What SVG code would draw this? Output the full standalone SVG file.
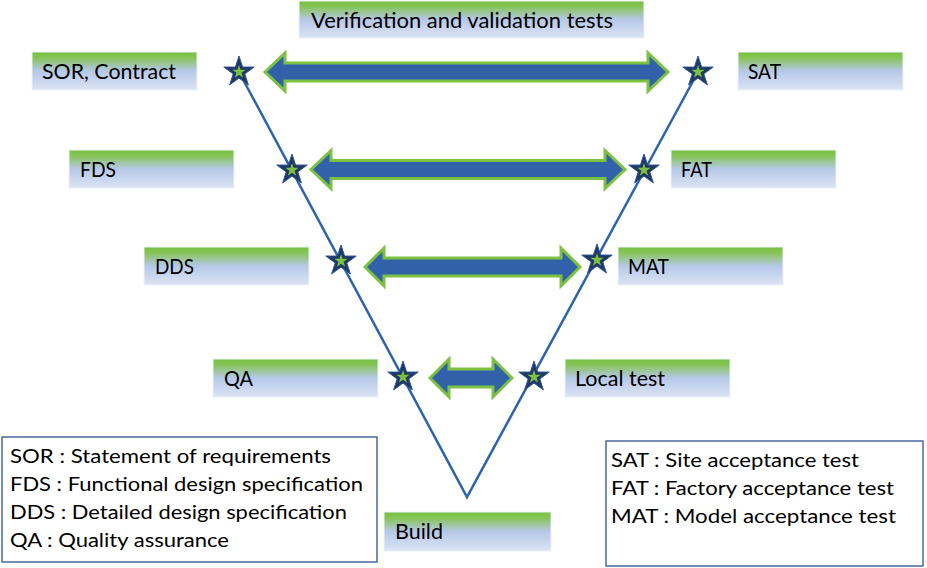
<svg xmlns="http://www.w3.org/2000/svg" xmlns:xlink="http://www.w3.org/1999/xlink" width="927" height="568" viewBox="0 0 927 568">
  <defs>
    <linearGradient id="boxGrad" x1="0" y1="0" x2="0" y2="1">
      <stop offset="0" stop-color="#78c040"/>
      <stop offset="0.15" stop-color="#86c456"/>
      <stop offset="0.5" stop-color="#b6c8e8"/>
      <stop offset="1" stop-color="#dbe4f4"/>
    </linearGradient>
    <g id="star">
      <path d="M0,-16 L3.6,-4.95 L15.22,-4.95 L5.81,1.89 L9.4,12.94 L0,6.11 L-9.4,12.94 L-5.81,1.89 L-15.22,-4.95 L-3.6,-4.95 Z" fill="#1f3864" stroke="#2f5597" stroke-width="1"/>
      <path d="M0,-7 L1.57,-2.16 L6.66,-2.16 L2.54,0.83 L4.11,5.66 L0,2.67 L-4.11,5.66 L-2.54,0.83 L-6.66,-2.16 L-1.57,-2.16 Z" fill="#7cc142"/>
    </g>
  </defs>
  <style>
    .box { fill: url(#boxGrad); stroke: #eef3fa; stroke-width: 1; }
    .lbl { font-family: Lato, "Liberation Sans", sans-serif; font-size: 22px; fill: #000; }
    .leg { font-family: Lato, "Liberation Sans", sans-serif; font-size: 19.5px; fill: #000; }
    .legbox { fill: #fff; stroke: #2f528f; stroke-width: 1.3; }
    .vline { fill: none; stroke: #2f63ad; stroke-width: 2.5; stroke-linejoin: miter; }
    .arrow { fill: #3162a9; stroke: #7cc142; stroke-width: 3; stroke-linejoin: miter; }
  </style>

  <g id="connectors">
    <polyline class="vline" points="239,72 467,497 698,72"/>
    <path class="arrow" d="M265,72 L285,53 L285,63 L648,63 L648,53 L668,72 L648,91 L648,81 L285,81 L285,91 Z"/>
    <path class="arrow" d="M311,169.5 L331,150.5 L331,160.5 L605,160.5 L605,150.5 L625,169.5 L605,188.5 L605,178.5 L331,178.5 L331,188.5 Z"/>
    <path class="arrow" d="M365,267 L384,248 L384,258 L561,258 L561,248 L580,267 L561,286 L561,276 L384,276 L384,286 Z"/>
    <path class="arrow" d="M430,378 L449,359 L449,369 L493,369 L493,359 L512,378 L493,397 L493,387 L449,387 L449,397 Z"/>
  </g>

  <g id="stars">
    <use xlink:href="#star" x="239" y="72"/>
    <use xlink:href="#star" x="292" y="170"/>
    <use xlink:href="#star" x="341" y="261"/>
    <use xlink:href="#star" x="403" y="377"/>
    <use xlink:href="#star" x="698" y="72"/>
    <use xlink:href="#star" x="644" y="170"/>
    <use xlink:href="#star" x="597" y="260"/>
    <use xlink:href="#star" x="534" y="377"/>
  </g>

  <g id="node-vv">
    <rect class="box" x="299" y="1" width="345" height="37"/>
    <text class="lbl" x="311" y="28" textLength="302" lengthAdjust="spacingAndGlyphs">Verification and validation tests</text>
  </g>
  <g id="node-sor">
    <rect class="box" x="32" y="52" width="165" height="38"/>
    <text class="lbl" x="42" y="79" textLength="134" lengthAdjust="spacingAndGlyphs">SOR, Contract</text>
  </g>
  <g id="node-fds">
    <rect class="box" x="69" y="150" width="165" height="38"/>
    <text class="lbl" x="80" y="177" textLength="36" lengthAdjust="spacingAndGlyphs">FDS</text>
  </g>
  <g id="node-dds">
    <rect class="box" x="144" y="247" width="165" height="38"/>
    <text class="lbl" x="155" y="274" textLength="39" lengthAdjust="spacingAndGlyphs">DDS</text>
  </g>
  <g id="node-qa">
    <rect class="box" x="213" y="359" width="165" height="38"/>
    <text class="lbl" x="224" y="386" textLength="29" lengthAdjust="spacingAndGlyphs">QA</text>
  </g>
  <g id="node-sat">
    <rect class="box" x="738" y="52" width="165" height="38"/>
    <text class="lbl" x="748" y="79" textLength="33" lengthAdjust="spacingAndGlyphs">SAT</text>
  </g>
  <g id="node-fat">
    <rect class="box" x="671" y="150" width="165" height="38"/>
    <text class="lbl" x="681" y="177" textLength="31" lengthAdjust="spacingAndGlyphs">FAT</text>
  </g>
  <g id="node-mat">
    <rect class="box" x="618" y="247" width="165" height="38"/>
    <text class="lbl" x="628" y="274" textLength="41" lengthAdjust="spacingAndGlyphs">MAT</text>
  </g>
  <g id="node-local">
    <rect class="box" x="565" y="359" width="165" height="38"/>
    <text class="lbl" x="575" y="386" textLength="90" lengthAdjust="spacingAndGlyphs">Local test</text>
  </g>
  <g id="node-build">
    <rect class="box" x="384" y="512" width="167" height="39"/>
    <text class="lbl" x="395" y="539" textLength="48" lengthAdjust="spacingAndGlyphs">Build</text>
  </g>

  <g id="legend-left">
    <rect class="legbox" x="2" y="437" width="375" height="125"/>
    <text class="leg" x="10" y="463" textLength="321" lengthAdjust="spacingAndGlyphs">SOR : Statement of requirements</text>
    <text class="leg" x="10" y="491" textLength="353" lengthAdjust="spacingAndGlyphs">FDS : Functional design specification</text>
    <text class="leg" x="10" y="519" textLength="337" lengthAdjust="spacingAndGlyphs">DDS : Detailed design specification</text>
    <text class="leg" x="10" y="547" textLength="219" lengthAdjust="spacingAndGlyphs">QA : Quality assurance</text>
  </g>
  <g id="legend-right">
    <rect class="legbox" x="606" y="441" width="317" height="125"/>
    <text class="leg" x="611" y="467" textLength="248" lengthAdjust="spacingAndGlyphs">SAT : Site acceptance test</text>
    <text class="leg" x="611" y="495" textLength="283" lengthAdjust="spacingAndGlyphs">FAT : Factory acceptance test</text>
    <text class="leg" x="611" y="523" textLength="285" lengthAdjust="spacingAndGlyphs">MAT : Model acceptance test</text>
  </g>
</svg>
